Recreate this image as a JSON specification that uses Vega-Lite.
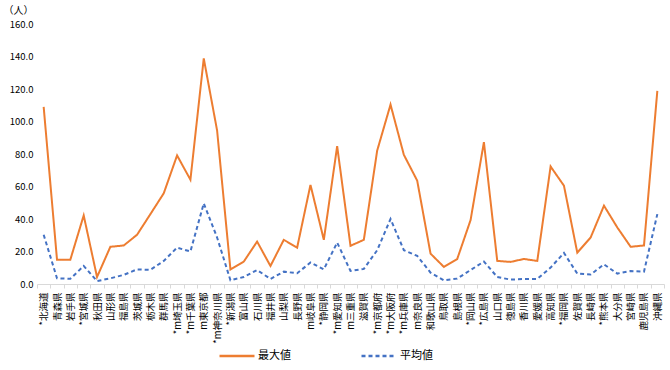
{
  "$schema": "https://vega.github.io/schema/vega-lite/v6.json",
  "width": 670,
  "height": 370,
  "autosize": {"type": "fit", "contains": "padding"},
  "padding": {"left": 3, "top": 5, "right": 5, "bottom": 26},
  "background": "white",
  "config": {
    "font": "Noto Sans CJK JP",
    "view": {"stroke": null}
  },
  "data": {
    "values": [
      {"pref": "*北海道", "最大値": 109.0, "平均値": 30.3},
      {"pref": "青森県", "最大値": 15.0, "平均値": 3.5},
      {"pref": "岩手県", "最大値": 15.0, "平均値": 3.2},
      {"pref": "*宮城県", "最大値": 42.2, "平均値": 11.1},
      {"pref": "秋田県", "最大値": 4.3, "平均値": 1.8},
      {"pref": "山形県", "最大値": 22.9, "平均値": 3.5},
      {"pref": "福島県", "最大値": 23.7, "平均値": 5.6},
      {"pref": "茨城県", "最大値": 30.3, "平均値": 9.0},
      {"pref": "栃木県", "最大値": 43.0, "平均値": 8.7},
      {"pref": "群馬県", "最大値": 55.8, "平均値": 14.2},
      {"pref": "*m埼玉県", "最大値": 79.1, "平均値": 22.4},
      {"pref": "*m千葉県", "最大値": 64.2, "平均値": 20.0},
      {"pref": "m東京都", "最大値": 138.8, "平均値": 49.6},
      {"pref": "*m神奈川県", "最大値": 94.5, "平均値": 28.6},
      {"pref": "*新潟県", "最大値": 8.9, "平均値": 2.3},
      {"pref": "富山県", "最大値": 13.8, "平均値": 4.3},
      {"pref": "石川県", "最大値": 26.1, "平均値": 8.6},
      {"pref": "福井県", "最大値": 11.1, "平均値": 3.1},
      {"pref": "山梨県", "最大値": 27.2, "平均値": 7.6},
      {"pref": "長野県", "最大値": 22.4, "平均値": 6.6},
      {"pref": "m岐阜県", "最大値": 61.0, "平均値": 13.2},
      {"pref": "*静岡県", "最大値": 27.2, "平均値": 9.0},
      {"pref": "*m愛知県", "最大値": 84.8, "平均値": 25.5},
      {"pref": "m三重県", "最大値": 23.5, "平均値": 8.0},
      {"pref": "滋賀県", "最大値": 27.2, "平均値": 9.3},
      {"pref": "*m京都府", "最大値": 82.1, "平均値": 20.8},
      {"pref": "*m大阪府", "最大値": 110.4, "平均値": 40.0},
      {"pref": "*m兵庫県", "最大値": 79.5, "平均値": 20.8},
      {"pref": "m奈良県", "最大値": 63.6, "平均値": 17.3},
      {"pref": "和歌山県", "最大値": 18.7, "平均値": 7.0},
      {"pref": "鳥取県", "最大値": 10.5, "平均値": 2.3},
      {"pref": "島根県", "最大値": 15.4, "平均値": 3.3},
      {"pref": "*岡山県", "最大値": 39.3, "平均値": 8.6},
      {"pref": "*広島県", "最大値": 87.3, "平均値": 13.8},
      {"pref": "山口県", "最大値": 14.2, "平均値": 4.3},
      {"pref": "徳島県", "最大値": 13.6, "平均値": 2.7},
      {"pref": "香川県", "最大値": 15.4, "平均値": 3.1},
      {"pref": "愛媛県", "最大値": 14.2, "平均値": 3.1},
      {"pref": "高知県", "最大値": 72.3, "平均値": 10.1},
      {"pref": "*福岡県", "最大値": 60.5, "平均値": 19.1},
      {"pref": "佐賀県", "最大値": 19.3, "平均値": 6.4},
      {"pref": "長崎県", "最大値": 28.6, "平均値": 5.8},
      {"pref": "*熊本県", "最大値": 48.2, "平均値": 12.1},
      {"pref": "大分県", "最大値": 34.8, "平均値": 6.4},
      {"pref": "宮崎県", "最大値": 22.9, "平均値": 8.0},
      {"pref": "鹿児島県", "最大値": 23.7, "平均値": 7.6},
      {"pref": "沖縄県", "最大値": 118.8, "平均値": 43.0}
    ]
  },
  "transform": [
    {"fold": ["最大値", "平均値"], "as": ["series", "value"]}
  ],
  "mark": {"type": "line", "strokeWidth": 2},
  "encoding": {
    "x": {
      "field": "pref",
      "type": "ordinal",
      "sort": null,
      "bandPosition": 0.5,
      "scale": {"type": "band", "paddingInner": 0, "paddingOuter": 0},
      "axis": {
        "title": null,
        "labelAngle": -90,
        "labelFontSize": 9.5,
        "labelColor": "#000000",
        "labelPadding": 4,
        "tickBand": "extent",
        "domainColor": "#D9D9D9",
        "tickColor": "#D9D9D9",
        "tickSize": 4,
        "grid": false
      }
    },
    "y": {
      "field": "value",
      "type": "quantitative",
      "scale": {"domain": [0, 160], "nice": false},
      "axis": {
        "values": [0, 20, 40, 60, 80, 100, 120, 140, 160],
        "format": ".1f",
        "grid": false,
        "domain": false,
        "ticks": false,
        "labelFontSize": 9.5,
        "labelColor": "#000000",
        "labelPadding": 4,
        "title": "（人）",
        "titleAngle": 0,
        "titleFontSize": 10,
        "titleFontWeight": "normal",
        "titleColor": "#000000",
        "titleAlign": "left",
        "titleBaseline": "middle",
        "titleX": -34,
        "titleY": -14
      }
    },
    "color": {
      "field": "series",
      "type": "nominal",
      "sort": ["最大値", "平均値"],
      "scale": {"domain": ["最大値", "平均値"], "range": ["#ED7D31", "#4472C4"]},
      "legend": {
        "title": null,
        "orient": "none",
        "direction": "horizontal",
        "legendX": 181,
        "legendY": 313,
        "symbolType": "stroke",
        "symbolSize": 1225,
        "symbolStrokeWidth": 2.5,
        "labelFontSize": 11,
        "labelColor": "#000000",
        "labelOffset": 2,
        "columnPadding": 65
      }
    },
    "strokeDash": {
      "field": "series",
      "type": "nominal",
      "sort": ["最大値", "平均値"],
      "scale": {"domain": ["最大値", "平均値"], "range": [[1, 0], [4, 3]]},
      "legend": null
    }
  }
}
